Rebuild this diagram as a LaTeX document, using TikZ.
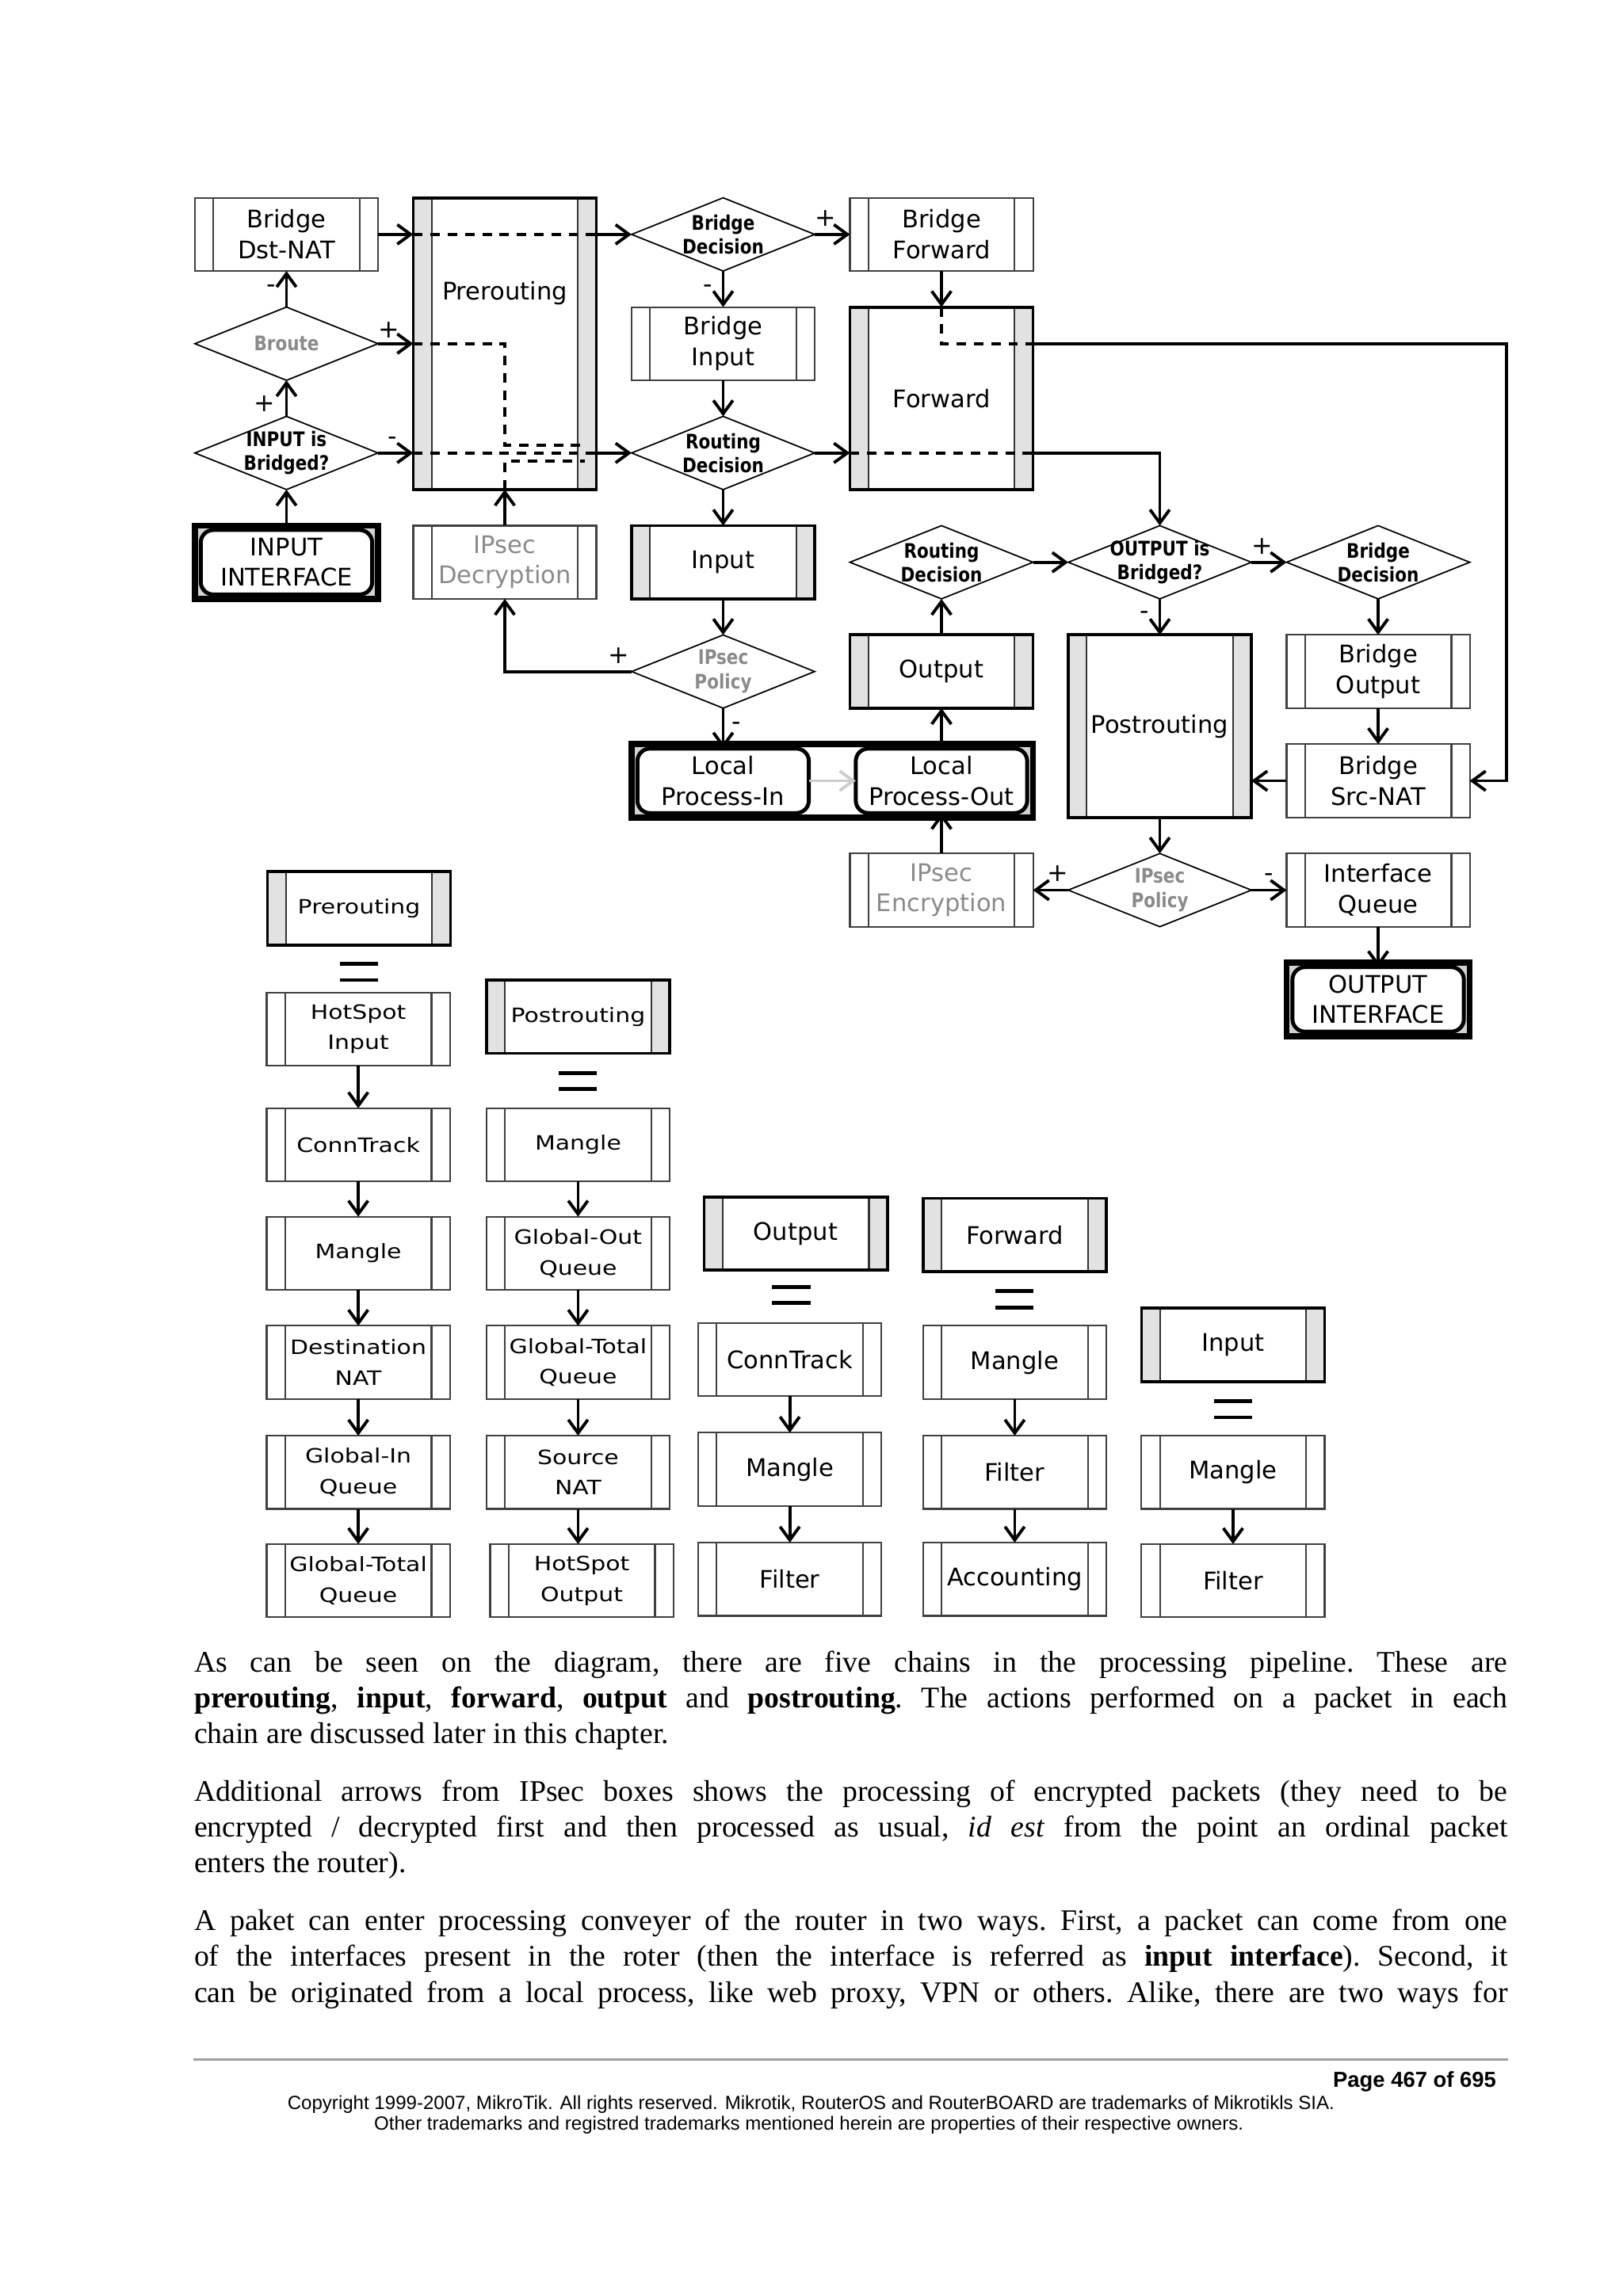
\documentclass[tikz,border=0pt]{standalone}
\usepackage{fontspec}
\setmainfont{Liberation Serif}
\newfontfamily\dfont{DejaVu Sans}
\newfontfamily\dwide[FakeStretch=1.2]{DejaVu Sans}
\newfontfamily\dcond[FakeStretch=0.85]{DejaVu Sans}
\newfontfamily\arialf{Liberation Sans}
\usetikzlibrary{arrows.meta,shapes.geometric}
\definecolor{sidegray}{HTML}{E2E2E2}
\definecolor{txtgray}{HTML}{8A8A8A}
\def\cA{195.5}\def\cB{344.5}\def\cC{493.5}\def\cD{642.5}\def\cE{791.5}\def\cF{940.5}
\def\rA{160}\def\rB{234.6}\def\rC{309.2}\def\rD{383.8}\def\rE{458.4}\def\rF{533}\def\rG{607.6}\def\rH{682.2}
\newcommand\eqsign[2]{\draw[line width=1.4pt] (#1-13,#2-5.5) -- (#1+13,#2-5.5) (#1-13,#2+5.5) -- (#1+13,#2+5.5);}
\begin{document}
\begin{tikzpicture}[x=0.018491cm, y=-0.018491cm,
  every node/.style={inner sep=0pt, outer sep=0pt},
  boxtext/.style={font=\dfont\fontsize{8.7}{11}\selectfont, align=center},
  widetext/.style={font=\dwide\fontsize{7.1}{11}\selectfont, align=center},
  sidelines/.style={path picture={
     \draw[black!75, line width=0.6pt]
       ([xshift=6.58pt]path picture bounding box.north west) -- ([xshift=6.58pt]path picture bounding box.south west)
       ([xshift=-6.58pt]path picture bounding box.north east) -- ([xshift=-6.58pt]path picture bounding box.south east);}},
  proc/.style={rectangle, draw=black!75, line width=0.6pt, fill=white,
     minimum width=65.76pt, minimum height=26.3pt, boxtext, sidelines},
  chain/.style={rectangle, draw=black, line width=1.1pt, fill=white,
     minimum width=65.76pt, minimum height=26.3pt, boxtext,
     path picture={
       \fill[sidegray] (path picture bounding box.north west) rectangle ([xshift=6.58pt]path picture bounding box.south west);
       \fill[sidegray] ([xshift=-6.58pt]path picture bounding box.north east) rectangle (path picture bounding box.south east);
       \draw[black!80, line width=0.6pt]
         ([xshift=6.58pt]path picture bounding box.north west) -- ([xshift=6.58pt]path picture bounding box.south west)
         ([xshift=-6.58pt]path picture bounding box.north east) -- ([xshift=-6.58pt]path picture bounding box.south east);}},
  dia/.style={diamond, draw=black, line width=0.5pt, fill=white,
     minimum width=65.76pt, minimum height=26.3pt},
  dlab/.style={font=\dcond\bfseries\fontsize{7.2}{8.6}\selectfont, align=center},
  glab/.style={dlab, text=txtgray},
  iface/.style={rectangle, rounded corners=4.5pt, draw=black, line width=1.4pt, fill=white,
     minimum width=61.55pt, minimum height=23.15pt, boxtext},
  ifframe/.style={draw=black, line width=2.2pt, fill=gray!35},
  arr/.style={line width=1.1pt, -{Straight Barb[length=4.8pt, width=7pt]}},
  dsh/.style={line width=1.1pt, dash pattern=on 3.4pt off 2.8pt},
  pm/.style={font=\dfont\fontsize{9}{9}\selectfont},
  para/.style={anchor=base west, font=\fontsize{10.75}{12.9}\selectfont\frenchspacing}
]
\useasboundingbox (0,0) rectangle (1107.6,1567.3);
\fill[white] (0,0) rectangle (1107.6,1567.3);

% ---------- interface frames ----------
\draw[ifframe] (133,358.8) rectangle (258,408.8);
\draw[ifframe] (878,657.2) rectangle (1003,707.2);
\draw[ifframe] (431,508) rectangle (705,558);
\fill[white] (\cC,510.3) rectangle (\cD,555.7);

% ---------- top diagram nodes ----------
\node[proc] (bdnat) at (\cA,\rA) {Bridge\\Dst-NAT};
\node[dia, label={[glab]center:Broute}] (broute) at (\cA,\rB) {};
\node[dia, label={[dlab]center:{INPUT is\\Bridged?}}] (inbr) at (\cA,\rC) {};
\node[iface] (inif) at (\cA,\rD) {INPUT\\INTERFACE};

\node[chain, minimum height=104.8pt, label={[boxtext, yshift=18pt]center:Prerouting}] (prer) at (\cB,234.6) {};
\node[proc, text=txtgray] (ipdec) at (\cB,\rD) {IPsec\\Decryption};

\node[dia, label={[dlab]center:{Bridge\\Decision}}] (bdecA) at (\cC,\rA) {};
\node[proc] (brin) at (\cC,\rB) {Bridge\\Input};
\node[dia, label={[dlab]center:{Routing\\Decision}}] (rdecA) at (\cC,\rC) {};
\node[chain] (inp) at (\cC,\rD) {Input};
\node[dia, label={[glab]center:{IPsec\\Policy}}] (polA) at (\cC,\rE) {};
\node[iface] (lpin) at (\cC,\rF) {Local\\Process-In};

\node[proc] (bfwd) at (\cD,\rA) {Bridge\\Forward};
\node[chain, minimum height=65.55pt] (fwd) at (\cD,271.9) {Forward};
\node[dia, label={[dlab]center:{Routing\\Decision}}] (rdecB) at (\cD,\rD) {};
\node[chain] (outp) at (\cD,\rE) {Output};
\node[iface] (lpout) at (\cD,\rF) {Local\\Process-Out};
\node[proc, text=txtgray] (ipenc) at (\cD,\rG) {IPsec\\Encryption};

\node[dia, label={[dlab]center:{OUTPUT is\\Bridged?}}] (outbr) at (\cE,\rD) {};
\node[chain, minimum height=65.55pt] (postr) at (\cE,495.7) {Postrouting};
\node[dia, label={[glab]center:{IPsec\\Policy}}] (polB) at (\cE,\rG) {};

\node[dia, label={[dlab]center:{Bridge\\Decision}}] (bdecB) at (\cF,\rD) {};
\node[proc] (brout) at (\cF,\rE) {Bridge\\Output};
\node[proc] (brsnat) at (\cF,\rF) {Bridge\\Src-NAT};
\node[proc] (ifq) at (\cF,\rG) {Interface\\Queue};
\node[iface] (outif) at (\cF,\rH) {OUTPUT\\INTERFACE};
\coordinate (rt) at (1028,\rB);

% ---------- dashed paths inside chains ----------
\draw[dsh] (bdnat.east -| prer.west) -- (bdnat.east -| prer.east);
\draw[dsh] (broute.east -| prer.west) -- (\cB,\rB) -- (\cB,303.7) -- (399,303.7);
\draw[dsh] (inbr.east -| prer.west) -- (inbr.east -| prer.east);
\draw[dsh] (prer.south) -- (\cB,314.7) -- (399,314.7);
\draw[dsh] (rdecA.east -| fwd.west) -- (rdecA.east -| fwd.east);
\draw[dsh] (fwd.north) -- (\cD,\rB) -- (fwd.east |- brin.east);

% ---------- connectors ----------
\draw[arr] (inif) -- (inbr);
\draw[arr] (inbr) -- node[pm, left=4pt, pos=0.35]{+} (broute);
\draw[arr] (broute) -- node[pm, left=4pt, pos=0.5]{-} (bdnat);
\draw[arr] (broute.east) -- node[pm, above=2pt, pos=0.3]{+} (broute.east -| prer.west);
\draw[arr] (inbr.east) -- node[pm, above=3pt, pos=0.4]{-} (inbr.east -| prer.west);
\draw[arr] (bdnat.east) -- (bdnat.east -| prer.west);
\draw[arr] (ipdec) -- (prer);
\draw[arr] (prer.east |- bdecA) -- (bdecA);
\draw[arr] (bdecA) -- node[pm, above=3pt, pos=0.3]{+} (bfwd);
\draw[arr] (bdecA) -- node[pm, left=4pt, pos=0.5]{-} (brin);
\draw[arr] (brin) -- (rdecA);
\draw[arr] (prer.east |- rdecA) -- (rdecA);
\draw[arr] (rdecA) -- (rdecA -| fwd.west);
\draw[arr] (rdecA) -- (inp);
\draw[arr] (bfwd) -- (fwd);
\draw[arr] (inp) -- (polA);
\draw[arr] (polA.west) -| node[pm, above=3pt, pos=0.05]{+} (ipdec.south);
\draw[arr] (polA) -- node[pm, right=3pt, pos=0.45]{-} (lpin);
\draw[arr, draw=gray!40] (lpin) -- (lpout);
\draw[arr] (lpout) -- (outp);
\draw[arr] (ipenc) -- (lpout);
\draw[arr] (outp) -- (rdecB);
\draw[arr] (rdecB) -- (outbr);
\draw[arr] (fwd.east |- rdecA) -| (outbr);
\draw[arr] (fwd.east |- brin.east) -- (rt) |- (brsnat);
\draw[arr] (outbr) -- node[pm, above=3pt, pos=0.3]{+} (bdecB);
\draw[arr] (outbr) -- node[pm, left=4pt, pos=0.45]{-} (postr);
\draw[arr] (bdecB) -- (brout);
\draw[arr] (brout) -- (brsnat);
\draw[arr] (brsnat.west) -- (brsnat.west -| postr.east);
\draw[arr] (postr) -- (polB);
\draw[arr] (polB) -- node[pm, above=3pt, pos=0.3]{+} (ipenc);
\draw[arr] (polB) -- node[pm, above=3pt, pos=0.5]{-} (ifq);
\draw[arr] (ifq) -- (outif);

% ---------- chain A : prerouting ----------
\node[chain, widetext] (hA) at (245,620) {Prerouting};
\eqsign{245}{663.5}
\node[proc, widetext] (a1) at (244.5,702.5) {HotSpot\\Input};
\node[proc, widetext] (a2) at (244.5,781.5) {ConnTrack};
\node[proc, widetext] (a3) at (244.5,855.5) {Mangle};
\node[proc, widetext] (a4) at (244.5,930) {Destination\\NAT};
\node[proc, widetext] (a5) at (244.5,1005) {Global-In\\Queue};
\node[proc, widetext] (a6) at (244.5,1079) {Global-Total\\Queue};
\draw[arr] (a1) -- (a2);
\draw[arr] (a2) -- (a3);
\draw[arr] (a3) -- (a4);
\draw[arr] (a4) -- (a5);
\draw[arr] (a5) -- (a6);

% ---------- chain B : postrouting ----------
\node[chain, widetext] (hB) at (394.5,694) {Postrouting};
\eqsign{394.5}{738}
\node[proc, widetext] (b1) at (394.5,781.5) {Mangle};
\node[proc, widetext] (b2) at (394.5,855.5) {Global-Out\\Queue};
\node[proc, widetext] (b3) at (394.5,930) {Global-Total\\Queue};
\node[proc, widetext] (b4) at (394.5,1005) {Source\\NAT};
\node[proc, widetext] (b5) at (397,1079) {HotSpot\\Output};
\draw[arr] (b1) -- (b2);
\draw[arr] (b2) -- (b3);
\draw[arr] (b3) -- (b4);
\draw[arr] (b4) -- (b4 |- b5.north);

% ---------- chain C : output ----------
\node[chain] (hC) at (543,842) {Output};
\eqsign{540}{884}
\node[proc] (c1) at (539,928) {ConnTrack};
\node[proc] (c2) at (539,1003) {Mangle};
\node[proc] (c3) at (539,1078) {Filter};
\draw[arr] (c1) -- (c2);
\draw[arr] (c2) -- (c3);

% ---------- chain D : forward ----------
\node[chain] (hD) at (692.5,843) {Forward};
\eqsign{692}{887}
\node[proc] (d1) at (692.5,930) {Mangle};
\node[proc] (d2) at (692.5,1005) {Filter};
\node[proc] (d3) at (692.5,1078) {Accounting};
\draw[arr] (d1) -- (d2);
\draw[arr] (d2) -- (d3);

% ---------- chain E : input ----------
\node[chain] (hE) at (841.5,918) {Input};
\eqsign{841.5}{962}
\node[proc] (e1) at (841.5,1005) {Mangle};
\node[proc] (e2) at (841.5,1079) {Filter};
\draw[arr] (e1) -- (e2);

% ---------- body text ----------
\node[para] (p1a) at (132.5,1141.2) {\makebox[471.7pt][s]{As can be seen on the diagram, there are five chains in the processing pipeline. These are}};
\node[para] (p1b) at (132.5,1165.7) {\makebox[471.7pt][s]{\textbf{prerouting}, \textbf{input}, \textbf{forward}, \textbf{output} and \textbf{postrouting}. The actions performed on a packet in each}};
\node[para] (p1c) at (132.5,1190.2) {chain are discussed later in this chapter.};
\node[para] (p2a) at (132.5,1229.3) {\makebox[471.7pt][s]{Additional arrows from IPsec boxes shows the processing of encrypted packets (they need to be}};
\node[para] (p2b) at (132.5,1253.8) {\makebox[471.7pt][s]{encrypted / decrypted first and then processed as usual, \textit{id est} from the point an ordinal packet}};
\node[para] (p2c) at (132.5,1278.3) {enters the router).};
\node[para] (p3a) at (132.5,1317.8) {\makebox[471.7pt][s]{A paket can enter processing conveyer of the router in two ways. First, a packet can come from one}};
\node[para] (p3b) at (132.5,1342.3) {\makebox[471.7pt][s]{of the interfaces present in the roter (then the interface is referred as \textbf{input interface}). Second, it}};
\node[para] (p3c) at (132.5,1366.8) {\makebox[471.7pt][s]{can be originated from a local process, like web proxy, VPN or others. Alike, there are two ways for}};

% ---------- footer ----------
\draw[gray!75, line width=0.85pt] (132,1406) -- (1029,1406);
\node[anchor=base east, font=\arialf\bfseries\fontsize{7.8}{9}\selectfont] (pg) at (1021,1425) {Page 467 of 695};
\node[anchor=base, font=\arialf\fontsize{6.85}{8}\selectfont] (cp1) at (553.5,1440) {Copyright 1999-2007, MikroTik. All rights reserved. Mikrotik, RouterOS and RouterBOARD are trademarks of Mikrotikls SIA.};
\node[anchor=base, font=\arialf\fontsize{6.85}{8}\selectfont] (cp2) at (552,1454) {Other trademarks and registred trademarks mentioned herein are properties of their respective owners.};
\end{tikzpicture}
\end{document}
